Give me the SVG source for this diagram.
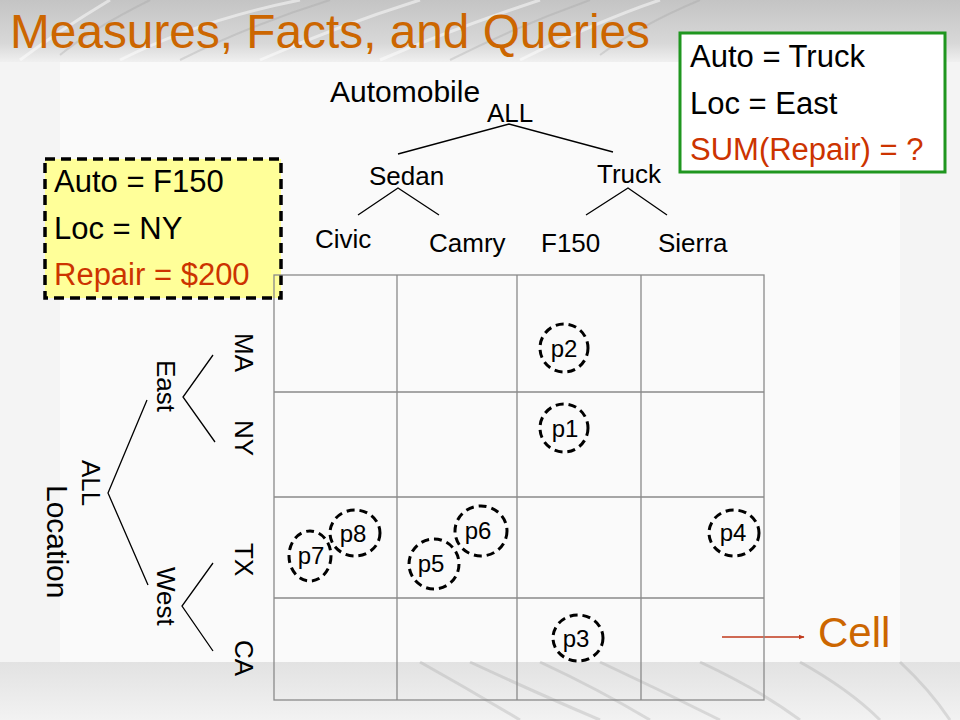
<svg xmlns="http://www.w3.org/2000/svg" width="960" height="720" viewBox="0 0 960 720">
<defs>
<linearGradient id="topband" x1="0" y1="0" x2="0" y2="1">
<stop offset="0" stop-color="#c4c4c4"/>
<stop offset="0.7" stop-color="#d8d8d8"/>
<stop offset="1" stop-color="#f0f0f0"/>
</linearGradient>
<linearGradient id="bottomband" x1="0" y1="0" x2="0" y2="1">
<stop offset="0" stop-color="#e2e2e2"/>
<stop offset="1" stop-color="#f2f2f2"/>
</linearGradient>
<marker id="arr" viewBox="0 0 10 10" refX="9" refY="5" markerWidth="6" markerHeight="6" orient="auto" markerUnits="userSpaceOnUse">
<path d="M0,1 L10,5 L0,9 z" fill="#c0391b"/>
</marker>
<style>
.t{font-family:"Liberation Sans",Arial,sans-serif;fill:#000}
.title{font-family:"Liberation Sans",Arial,sans-serif;fill:#cc6600;font-size:48px}
.box{font-family:"Liberation Sans",Arial,sans-serif;font-size:31px;fill:#000}
.red{fill:#cc3300}
.lbl{font-size:26px}
.big{font-size:30px}
.br{stroke:#000;stroke-width:1.3;fill:none}
.grid{stroke:#8a8a8a;stroke-width:1.3;fill:none}
.pt{fill:none;stroke:#000;stroke-width:3;stroke-dasharray:8 5}
.pl{font-family:"Liberation Sans",Arial,sans-serif;font-size:24px;fill:#000;text-anchor:middle}
.streak{fill:none;stroke:#ffffff;stroke-opacity:0.5}
.dstreak{fill:none;stroke:#a0a0a0;stroke-opacity:0.3}
</style>
</defs>

<g id="background">
<rect x="0" y="0" width="960" height="720" fill="#f4f4f4"/>
<rect x="0" y="0" width="960" height="62" fill="url(#topband)"/>
<rect x="0" y="662" width="960" height="58" fill="url(#bottomband)"/>
<rect x="60" y="62" width="840" height="600" fill="#fafafa"/>
<path class="streak" stroke-width="3" d="M120,60 Q200,20 300,0 M260,60 Q340,25 420,0 M520,60 Q600,20 660,0 M380,60 Q450,30 540,0 M20,60 Q60,30 110,0"/>
<path class="dstreak" stroke-width="2" d="M180,60 Q250,25 330,0 M450,60 Q520,25 590,0 M600,55 Q640,25 700,0 M60,55 Q90,30 150,0"/>
<path class="dstreak" stroke-width="3" d="M420,662 Q470,690 520,720 M470,662 Q530,690 600,720 M540,662 Q600,690 650,720 M600,662 Q660,690 720,720 M700,662 Q760,690 800,720 M800,662 Q850,690 880,720 M900,662 Q930,690 950,720"/>
</g>

<text class="title" x="10" y="48" textLength="640" lengthAdjust="spacingAndGlyphs">Measures, Facts, and Queries</text>

<g id="query-box">
<rect x="680" y="33" width="265" height="139" fill="#ffffff" stroke="#1f961f" stroke-width="3"/>
<text class="box" x="690" y="67">Auto = Truck</text>
<text class="box" x="690" y="114">Loc = East</text>
<text class="box red" x="690" y="160">SUM(Repair) = ?</text>
</g>

<g id="fact-box">
<rect x="45" y="159" width="236" height="139" fill="#ffff99" stroke="#000" stroke-width="3.5" stroke-dasharray="10 6"/>
<text class="box" x="54" y="192">Auto = F150</text>
<text class="box" x="54" y="239">Loc = NY</text>
<text class="box red" x="54" y="285">Repair = $200</text>
</g>

<g id="automobile-hierarchy">
<text class="t big" x="330" y="102">Automobile</text>
<text class="t lbl" x="487" y="122">ALL</text>
<text class="t lbl" x="369" y="185">Sedan</text>
<text class="t lbl" x="597" y="183">Truck</text>
<text class="t lbl" x="315" y="248">Civic</text>
<text class="t lbl" x="429" y="252">Camry</text>
<text class="t lbl" x="541" y="252">F150</text>
<text class="t lbl" x="658" y="252">Sierra</text>
</g>

<g id="location-hierarchy">
<text class="t big" transform="translate(47,485) rotate(90)">Location</text>
<text class="t lbl" transform="translate(82,460) rotate(90)">ALL</text>
<text class="t lbl" transform="translate(157,360) rotate(90)">East</text>
<text class="t lbl" transform="translate(157,567) rotate(90)">West</text>
<text class="t lbl" transform="translate(235,333) rotate(90)">MA</text>
<text class="t lbl" transform="translate(235,420) rotate(90)">NY</text>
<text class="t lbl" transform="translate(235,543) rotate(90)">TX</text>
<text class="t lbl" transform="translate(235,640) rotate(90)">CA</text>
</g>

<g id="connectors">
<path class="br" d="M398,154 L509,124 L613,152"/>
<path class="br" d="M358,215 L398,188 L439,215"/>
<path class="br" d="M586,215 L628,188 L667,215"/>
<path class="br" d="M147,400 L108,493 L148,585"/>
<path class="br" d="M213,355 L183,397 L215,442"/>
<path class="br" d="M213,563 L182,606 L213,651"/>
<line x1="722" y1="637" x2="804" y2="637" stroke="#c0391b" stroke-width="1.5" marker-end="url(#arr)"/>
</g>

<g id="grid">
<rect class="grid" x="274" y="275" width="490" height="425"/>
<path class="grid" d="M397,275 V700 M517,275 V700 M641,275 V700 M274,392 H764 M274,497 H764 M274,598 H764"/>
</g>

<g id="p1"><ellipse class="pt" cx="564" cy="428" rx="24" ry="24"/><text class="pl" x="565" y="437">p1</text></g>
<g id="p2"><ellipse class="pt" cx="564" cy="348" rx="24" ry="24"/><text class="pl" x="564" y="357">p2</text></g>
<g id="p3"><ellipse class="pt" cx="578" cy="638" rx="25" ry="23"/><text class="pl" x="576" y="647">p3</text></g>
<g id="p4"><ellipse class="pt" cx="734" cy="533" rx="25" ry="23"/><text class="pl" x="733" y="541">p4</text></g>
<g id="p5"><ellipse class="pt" cx="434" cy="564" rx="25" ry="25"/><text class="pl" x="431" y="572">p5</text></g>
<g id="p6"><ellipse class="pt" cx="481" cy="531" rx="26" ry="25"/><text class="pl" x="478" y="539">p6</text></g>
<g id="p7"><ellipse class="pt" cx="310" cy="556" rx="21" ry="25"/><text class="pl" x="311" y="564">p7</text></g>
<g id="p8"><ellipse class="pt" cx="355" cy="533" rx="25" ry="23"/><text class="pl" x="353" y="542">p8</text></g>

<g id="cell-label">
<text x="818" y="647" font-family="Liberation Sans, Arial, sans-serif" font-size="42" fill="#cc6600">Cell</text>
</g>
</svg>
